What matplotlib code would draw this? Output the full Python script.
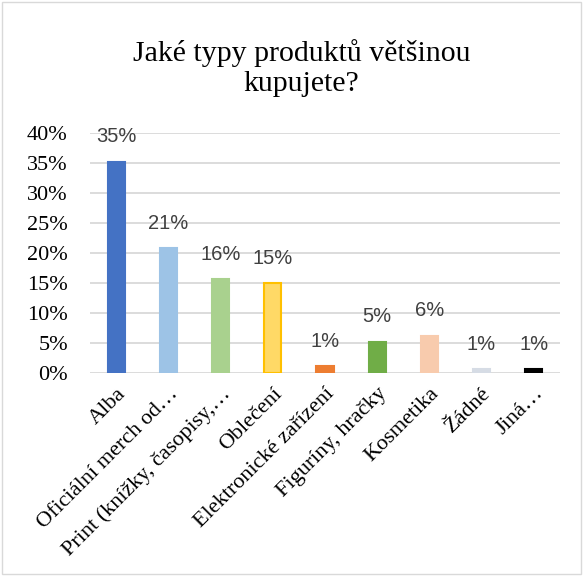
import matplotlib.pyplot as plt
from matplotlib.patches import Rectangle

# Data
categories = ['Alba', 'Oficiální merch od…', 'Print (knížky, časopisy,…',
              'Oblečení', 'Elektronické zařízení', 'Figuríny, hračky',
              'Kosmetika', 'Žádné', 'Jiná…']
values = [0.352, 0.208, 0.156, 0.150, 0.011, 0.052, 0.062, 0.006, 0.006]
labels = ['35%', '21%', '16%', '15%', '1%', '5%', '6%', '1%', '1%']
colors = ['#4472C4', '#9DC3E6', '#A9D18E', '#FFD966', '#ED7D31',
          '#70AD47', '#F8CBAD', '#D6DCE5', '#000000']
edges = ['#4472C4', '#9DC3E6', '#A9D18E', '#FFC000', '#ED7D31',
         '#70AD47', '#F8CBAD', '#D6DCE5', '#000000']
yticks = [0, 0.05, 0.10, 0.15, 0.20, 0.25, 0.30, 0.35, 0.40]

fig = plt.figure(figsize=(5.85, 5.77), dpi=100)
ax = fig.add_axes([0.154, 0.3536, 0.803, 0.416])

x = range(len(categories))
bars = ax.bar(x, values, width=0.33, color=colors, edgecolor=edges,
              linewidth=1.5, zorder=3)

for i, (v, lab) in enumerate(zip(values, labels)):
    ax.annotate(lab, (i, v), xytext=(0, 11), textcoords='offset points',
                ha='center', va='bottom', fontsize=14.5, color='#404040',
                family='Liberation Sans')

ax.set_xlim(-0.5, len(categories) - 0.5)
ax.set_ylim(0, 0.40)
ax.set_yticks(yticks)
ax.set_yticklabels([f'{int(round(t * 100))}%' for t in yticks],
                   family='Liberation Serif', fontsize=16)
ax.set_xticks(list(x))
ax.set_xticklabels(categories, rotation=45, ha='right',
                   rotation_mode='anchor', family='Liberation Serif',
                   fontsize=16)
ax.tick_params(axis='y', length=0, pad=16)
ax.tick_params(axis='x', length=0, pad=8)
ax.grid(axis='y', color='#D9D9D9', linewidth=1.3, zorder=0)
for s in ax.spines.values():
    s.set_visible(False)

fig.text(0.515, 0.882, 'Jaké typy produktů většinou\nkupujete?',
         ha='center', va='center', fontsize=21.5, family='Liberation Serif',
         linespacing=1.22)

# chart border
fig.patches.append(Rectangle((0.004, 0.006), 0.99, 0.99,
                             transform=fig.transFigure, fill=False,
                             edgecolor='#D9D9D9', linewidth=1))

fig.savefig('out.png', dpi=100)
